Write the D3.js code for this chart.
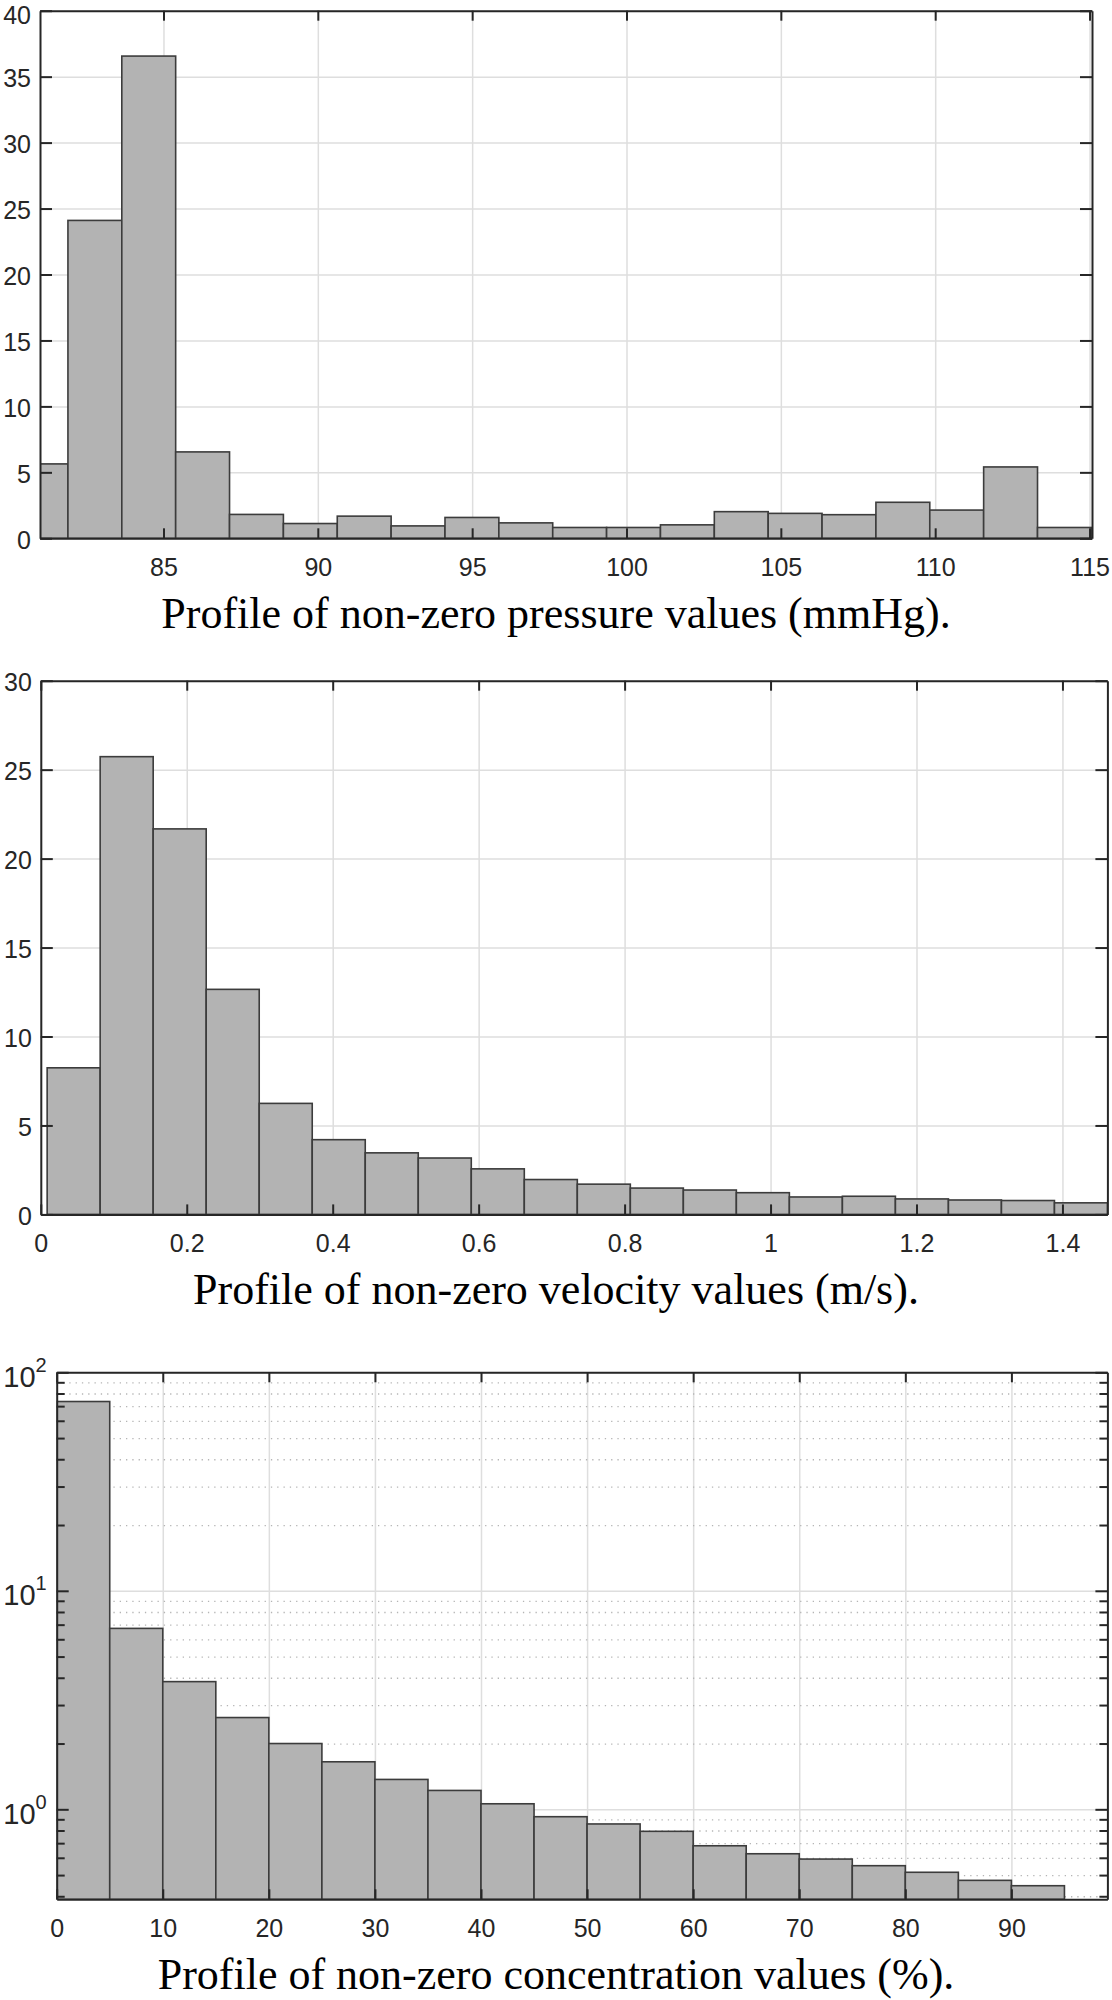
<!DOCTYPE html>
<html>
<head>
<meta charset="utf-8">
<script src="https://cdn.jsdelivr.net/npm/d3@7"></script>
<style>
  body { margin: 0; background: #fff; }
  .tick text { font-family: "Liberation Sans", Arial, sans-serif; font-size: 25px; fill: #262626; }
  .caption { font-family: "Liberation Serif", "Times New Roman", serif; font-size: 44px; fill: #000; }
</style>
</head>
<body>
<div id="chart"></div>
<script>
// pressure histogram (mmHg), 20 bins
const pressureCounts = [5.64, 24.1, 36.56, 6.55, 1.81, 1.12, 1.68, 0.94, 1.58, 1.17,
                        0.82, 0.82, 1.02, 2.02, 1.89, 1.79, 2.73, 2.14, 5.41, 0.82];
const pressureBinStart = 80.16;
const pressureBinWidth = 1.745;
const pressureXTicks = [85, 90, 95, 100, 105, 110, 115];
const pressureYTicks = [0, 5, 10, 15, 20, 25, 30, 35, 40];

// velocity histogram (m/s), 20 bins
const velocityCounts = [8.24, 25.73, 21.67, 12.65, 6.24, 4.2, 3.46, 3.17, 2.56, 1.96,
                        1.70, 1.48, 1.37, 1.22, 0.98, 1.02, 0.87, 0.81, 0.78, 0.65];
const velocityBinStart = 0.0087;
const velocityBinWidth = 0.07265;
const velocityXTicks = [0, 0.2, 0.4, 0.6, 0.8, 1, 1.2, 1.4];
const velocityYTicks = [0, 5, 10, 15, 20, 25, 30];

// concentration histogram (%), 19 bins, log y
const concentrationCounts = [73.5, 6.73, 3.84, 2.63, 2.0, 1.65, 1.37, 1.22, 1.06, 0.925,
                             0.857, 0.793, 0.681, 0.626, 0.592, 0.552, 0.515, 0.473, 0.447];
const concentrationBinStart = 0;
const concentrationBinWidth = 5;
const concentrationXTicks = [0, 10, 20, 30, 40, 50, 60, 70, 80, 90];
const concentrationYTicks = [1, 10, 100];
const concentrationMinorTicks = [0.4, 0.5, 0.6, 0.7, 0.8, 0.9, 2, 3, 4, 5, 6, 7, 8, 9,
                                 20, 30, 40, 50, 60, 70, 80, 90];

const captions = [
  "Profile of non-zero pressure values (mmHg).",
  "Profile of non-zero velocity values (m/s).",
  "Profile of non-zero concentration values (%)."
];

const kWidth = 1112;
const kHeight = 2000;
const kAxisColor = "#262626";
const kGridColor = "#dedede";
const kBarFill = "#b3b3b3";
const kBarEdge = "#3c3c3c";

const svg = d3.select("#chart")
  .append("svg")
  .attr("width", kWidth)
  .attr("height", kHeight);

function drawHistogram(opts, idx)
{
  const { left, right, top, bottom } = opts.box;
  const w = right - left;
  const h = bottom - top;

  const x = d3.scaleLinear().domain(opts.xDomain).range([left, right]);
  const y = (opts.log ? d3.scaleLog() : d3.scaleLinear())
    .domain(opts.yDomain).range([bottom, top]);

  const g = svg.append("g");

  // grid behind bars
  g.append("g")
    .attr("transform", `translate(0, ${bottom})`)
    .call(d3.axisBottom(x).tickValues(opts.xTicks).tickSize(-h).tickFormat(""))
    .call(a => a.select(".domain").remove())
    .selectAll("line").attr("stroke", kGridColor).attr("stroke-width", 1.5);

  g.append("g")
    .attr("transform", `translate(${left}, 0)`)
    .call(d3.axisLeft(y).tickValues(opts.yTicks).tickSize(-w).tickFormat(""))
    .call(a => a.select(".domain").remove())
    .selectAll("line").attr("stroke", kGridColor).attr("stroke-width", 1.5);

  if (opts.minorTicks) {
    g.append("g")
      .attr("transform", `translate(${left}, 0)`)
      .call(d3.axisLeft(y).tickValues(opts.minorTicks).tickSize(-w).tickFormat(""))
      .call(a => a.select(".domain").remove())
      .selectAll("line")
      .attr("stroke", "#b5b5b5")
      .attr("stroke-width", 1.3)
      .attr("stroke-dasharray", "1.3,5");
  }

  // bars
  const clipId = `clip${idx}`;
  svg.append("clipPath").attr("id", clipId)
    .append("rect").attr("x", left).attr("y", top).attr("width", w).attr("height", h);

  g.append("g")
    .attr("clip-path", `url(#${clipId})`)
    .selectAll("rect")
    .data(opts.counts)
    .enter()
    .append("rect")
    .attr("x", (d, i) => x(opts.binStart + i * opts.binWidth))
    .attr("width", (d, i) => x(opts.binStart + (i + 1) * opts.binWidth) - x(opts.binStart + i * opts.binWidth))
    .attr("y", d => y(d))
    .attr("height", d => bottom - y(d))
    .attr("fill", kBarFill)
    .attr("stroke", kBarEdge)
    .attr("stroke-width", 1.6);

  // axes on top
  g.append("g")
    .attr("transform", `translate(0, ${bottom})`)
    .call(d3.axisBottom(x).tickValues(opts.xTicks).tickSize(-10).tickSizeOuter(0)
      .tickPadding(20).tickFormat(d => String(d)));

  g.append("g")
    .attr("transform", `translate(0, ${top})`)
    .call(d3.axisTop(x).tickValues(opts.xTicks).tickSize(-10).tickSizeOuter(0).tickFormat(""));

  const yAxis = g.append("g")
    .attr("transform", `translate(${left}, 0)`)
    .call(d3.axisLeft(y).tickValues(opts.yTicks).tickSize(-12).tickSizeOuter(0)
      .tickPadding(9).tickFormat(d => String(d)));
  // keep the topmost label inside the page
  yAxis.selectAll(".tick text").attr("dy", d => y(d) < 20 ? "0.5em" : "0.4em");

  g.append("g")
    .attr("transform", `translate(${right}, 0)`)
    .call(d3.axisRight(y).tickValues(opts.yTicks).tickSize(-12).tickSizeOuter(0).tickFormat(""));

  if (opts.minorTicks) {
    g.append("g")
      .attr("transform", `translate(${left}, 0)`)
      .call(d3.axisLeft(y).tickValues(opts.minorTicks).tickSize(-8).tickSizeOuter(0).tickFormat(""))
      .call(a => a.select(".domain").remove());
    g.append("g")
      .attr("transform", `translate(${right}, 0)`)
      .call(d3.axisRight(y).tickValues(opts.minorTicks).tickSize(-8).tickSizeOuter(0).tickFormat(""))
      .call(a => a.select(".domain").remove());

    // 10^n labels
    yAxis.selectAll(".tick text").each(function(d) {
      const t = d3.select(this).text("")
        .attr("dy", 14)
        .attr("x", -10)
        .style("font-size", "29px");
      t.append("tspan").text("10");
      t.append("tspan").attr("dy", -15).style("font-size", "20px").text(Math.round(Math.log10(d)));
    });
  }

  g.selectAll(".domain").attr("stroke", kAxisColor).attr("stroke-width", 2);
  g.selectAll(".tick line").filter(function() { return this.getAttribute("stroke") === "currentColor"; })
    .attr("stroke", kAxisColor).attr("stroke-width", 2);

  // caption
  svg.append("text")
    .attr("class", "caption")
    .attr("x", kWidth / 2)
    .attr("y", bottom + 90)
    .attr("text-anchor", "middle")
    .text(opts.caption);
}

drawHistogram({
  box: { left: 40, right: 1092, top: 10.7, bottom: 538.3 },
  xDomain: [81.0, 115.08],
  yDomain: [0, 40],
  counts: pressureCounts,
  binStart: pressureBinStart,
  binWidth: pressureBinWidth,
  xTicks: pressureXTicks,
  yTicks: pressureYTicks,
  caption: captions[0]
}, 0);

drawHistogram({
  box: { left: 40.8, right: 1107.4, top: 680.7, bottom: 1214.4 },
  xDomain: [0, 1.4616],
  yDomain: [0, 30],
  counts: velocityCounts,
  binStart: velocityBinStart,
  binWidth: velocityBinWidth,
  xTicks: velocityXTicks,
  yTicks: velocityYTicks,
  caption: captions[1]
}, 1);

drawHistogram({
  box: { left: 56.7, right: 1107.4, top: 1372.3, bottom: 1899.3 },
  xDomain: [0, 99.05],
  yDomain: [0.3874, 100],
  log: true,
  counts: concentrationCounts,
  binStart: concentrationBinStart,
  binWidth: concentrationBinWidth,
  xTicks: concentrationXTicks,
  yTicks: concentrationYTicks,
  minorTicks: concentrationMinorTicks,
  caption: captions[2]
}, 2);
</script>
</body>
</html>
